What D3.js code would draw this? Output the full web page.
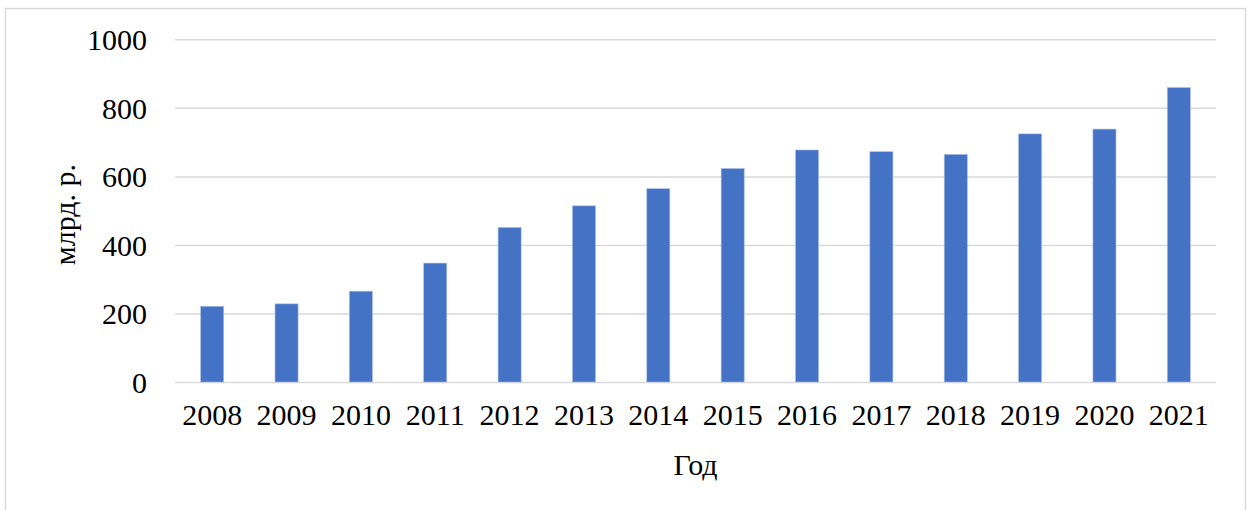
<!DOCTYPE html>
<html>
<head>
<meta charset="utf-8">
<script src="https://cdn.jsdelivr.net/npm/d3@7"></script>
<style>
  html, body { margin: 0; padding: 0; background: #fff; }
  svg { display: block; }
  text { font-family: "Liberation Serif", "Times New Roman", serif; fill: #000; }
</style>
</head>
<body>
<svg id="chart" width="1249" height="510"></svg>
<script>
// Annual values, billion roubles
const years = ["2008", "2009", "2010", "2011", "2012", "2013", "2014",
               "2015", "2016", "2017", "2018", "2019", "2020", "2021"];
const values = [221, 228, 265, 347, 451, 514, 564, 623, 677, 672, 664, 724, 738, 859];
const yTicks = [0, 200, 400, 600, 800, 1000];
const xTitle = "Год";
const yTitle = "млрд. р.";

const svg = d3.select("#chart");
const W = 1249, H = 510;
const plot = { left: 175, right: 1216, top: 39.3, bottom: 382 };

// outer frame (open at the bottom)
svg.append("path")
  .attr("d", `M5.5,${H + 2} V8.5 H1245.5 V${H + 2}`)
  .attr("fill", "none")
  .attr("stroke", "#d9d9d9")
  .attr("stroke-width", 1.5);

const x = d3.scaleBand()
  .domain(years)
  .range([plot.left, plot.right])
  .paddingInner(0.69)
  .paddingOuter(0.345);

const y = d3.scaleLinear()
  .domain([0, 1000])
  .range([plot.bottom, plot.top]);

// horizontal gridlines + y tick labels
const yAxis = d3.axisLeft(y)
  .tickValues(yTicks)
  .tickSize(-(plot.right - plot.left))
  .tickPadding(28)
  .tickFormat(d3.format("d"));

const gy = svg.append("g")
  .attr("transform", `translate(${plot.left},0)`)
  .call(yAxis);
gy.select(".domain").remove();
gy.selectAll(".tick line")
  .attr("stroke", "#d9d9d9")
  .attr("stroke-width", 1.5);
gy.selectAll(".tick text")
  .attr("font-size", 30)
  .attr("dy", "0.34em");

// bars
svg.append("g")
  .selectAll("rect")
  .data(values)
  .join("rect")
  .attr("x", (d, i) => x(years[i]))
  .attr("y", d => y(d))
  .attr("width", x.bandwidth())
  .attr("height", d => y(0) - y(d))
  .attr("fill", "#4472C4")
  .attr("stroke", "#a9bde6")
  .attr("stroke-width", 0.6);

// x axis labels
const xAxis = d3.axisBottom(x).tickSize(0).tickPadding(22);
const gx = svg.append("g")
  .attr("transform", `translate(0,${plot.bottom})`)
  .call(xAxis);
gx.select(".domain").remove();
gx.selectAll(".tick text").attr("font-size", 30);

// axis titles
svg.append("text")
  .attr("x", (plot.left + plot.right) / 2)
  .attr("y", 475)
  .attr("text-anchor", "middle")
  .attr("font-size", 30)
  .text(xTitle);

svg.append("text")
  .attr("transform", `translate(75,${(plot.top + plot.bottom) / 2 + 4}) rotate(-90)`)
  .attr("text-anchor", "middle")
  .attr("font-size", 30)
  .text(yTitle);
</script>
</body>
</html>
